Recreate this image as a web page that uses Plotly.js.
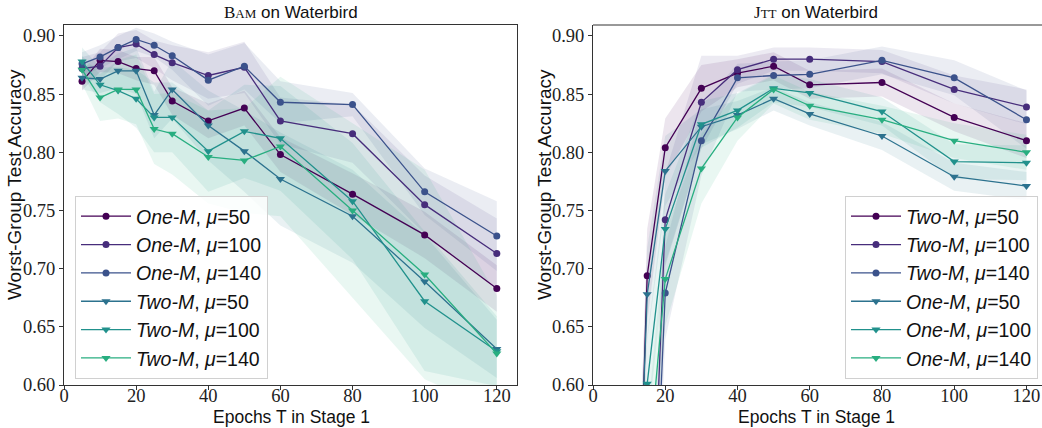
<!DOCTYPE html>
<html>
<head>
<meta charset="utf-8">
<script src="https://cdn.plot.ly/plotly-3.0.1.min.js"></script>
<style>html,body{margin:0;padding:0;background:#fff;}#chart{width:1042px;height:428px;}</style>
</head>
<body>
<div id="chart"></div>
<script>
// ---------- data ----------
const leftX = [5, 10, 15, 20, 25, 30, 40, 50, 60, 80, 100, 120];
const rightX = [10, 15, 20, 30, 40, 50, 60, 80, 100, 120];

// BAM on Waterbird (means)
const bamOne50  = [0.861, 0.879, 0.878, 0.872, 0.870, 0.844, 0.827, 0.838, 0.798, 0.764, 0.729, 0.683];
const bamOne100 = [0.872, 0.874, 0.890, 0.893, 0.884, 0.877, 0.866, 0.873, 0.827, 0.816, 0.755, 0.713];
const bamOne140 = [0.876, 0.882, 0.890, 0.897, 0.892, 0.883, 0.862, 0.874, 0.843, 0.841, 0.766, 0.728];
const bamTwo50  = [0.864, 0.863, 0.870, 0.870, 0.832, 0.854, 0.823, 0.801, 0.777, 0.745, 0.689, 0.631];
const bamTwo100 = [0.878, 0.858, 0.853, 0.846, 0.830, 0.830, 0.801, 0.818, 0.812, 0.758, 0.672, 0.629];
const bamTwo140 = [0.871, 0.847, 0.854, 0.854, 0.820, 0.816, 0.796, 0.793, 0.805, 0.750, 0.695, 0.627];
// BAM std
const bamOne50Sd  = [0.008, 0.010, 0.010, 0.010, 0.012, 0.012, 0.015, 0.015, 0.015, 0.018, 0.020, 0.020];
const bamOne100Sd = [0.010, 0.012, 0.012, 0.012, 0.012, 0.015, 0.020, 0.022, 0.020, 0.025, 0.025, 0.030];
const bamOne140Sd = [0.010, 0.010, 0.010, 0.010, 0.010, 0.012, 0.022, 0.020, 0.018, 0.010, 0.020, 0.030];
const bamTwo50Sd  = [0.010, 0.012, 0.015, 0.020, 0.020, 0.025, 0.030, 0.035, 0.040, 0.040, 0.040, 0.025];
const bamTwo100Sd = [0.012, 0.015, 0.020, 0.025, 0.030, 0.030, 0.035, 0.040, 0.045, 0.050, 0.060, 0.030];
const bamTwo140Sd = [0.012, 0.020, 0.025, 0.030, 0.030, 0.035, 0.040, 0.045, 0.060, 0.075, 0.090, 0.050];

// JTT on Waterbird (means)
const jttTwo50  = [0.20, 0.694, 0.804, 0.855, 0.868, 0.874, 0.858, 0.860, 0.830, 0.810];
const jttTwo100 = [0.15, 0.350, 0.742, 0.843, 0.871, 0.880, 0.880, 0.878, 0.854, 0.839];
const jttTwo140 = [0.12, 0.320, 0.679, 0.810, 0.864, 0.866, 0.867, 0.879, 0.864, 0.828];
const jttOne50  = [0.25, 0.678, 0.784, 0.822, 0.832, 0.846, 0.833, 0.814, 0.779, 0.771];
const jttOne100 = [0.20, 0.601, 0.734, 0.824, 0.836, 0.855, 0.851, 0.835, 0.792, 0.791];
const jttOne140 = [0.15, 0.520, 0.691, 0.786, 0.830, 0.854, 0.840, 0.828, 0.810, 0.800];
// JTT std
const jttTwo50Sd  = [0.05, 0.040, 0.025, 0.020, 0.012, 0.012, 0.012, 0.012, 0.012, 0.015];
const jttTwo100Sd = [0.05, 0.050, 0.040, 0.040, 0.012, 0.010, 0.010, 0.010, 0.012, 0.015];
const jttTwo140Sd = [0.05, 0.050, 0.040, 0.030, 0.012, 0.012, 0.012, 0.012, 0.015, 0.025];
const jttOne50Sd  = [0.05, 0.040, 0.030, 0.015, 0.012, 0.010, 0.010, 0.012, 0.012, 0.012];
const jttOne100Sd = [0.05, 0.040, 0.030, 0.020, 0.015, 0.012, 0.012, 0.012, 0.015, 0.015];
const jttOne140Sd = [0.05, 0.050, 0.040, 0.030, 0.020, 0.012, 0.012, 0.012, 0.015, 0.015];

const leftNames  = ['<i>One-M</i>, <i>μ</i>=50', '<i>One-M</i>, <i>μ</i>=100', '<i>One-M</i>, <i>μ</i>=140',
                    '<i>Two-M</i>, <i>μ</i>=50', '<i>Two-M</i>, <i>μ</i>=100', '<i>Two-M</i>, <i>μ</i>=140'];
const rightNames = ['<i>Two-M</i>, <i>μ</i>=50', '<i>Two-M</i>, <i>μ</i>=100', '<i>Two-M</i>, <i>μ</i>=140',
                    '<i>One-M</i>, <i>μ</i>=50', '<i>One-M</i>, <i>μ</i>=100', '<i>One-M</i>, <i>μ</i>=140'];
const xTicks = [0, 20, 40, 60, 80, 100, 120];
const yTicks = [0.60, 0.65, 0.70, 0.75, 0.80, 0.85, 0.90];
const xTitle = 'Epochs T in Stage 1';
const yTitle = 'Worst-Group Test Accuracy';

// ---------- styling ----------
const colors = ['#440154', '#472d7b', '#3b528b', '#2c728e', '#21918c', '#28ae80'];
const symbols = ['circle', 'circle', 'circle', 'triangle-down', 'triangle-down', 'triangle-down'];
function rgba(hex, a) {
  const r = parseInt(hex.slice(1, 3), 16), g = parseInt(hex.slice(3, 5), 16), b = parseInt(hex.slice(5, 7), 16);
  return `rgba(${r},${g},${b},${a})`;
}

const traces = [];
function addSeries(xs, means, sds, names, xa, ya, legendName) {
  means.forEach((m, i) => {
    const up = m.map((v, j) => v + sds[i][j]);
    const lo = m.map((v, j) => v - sds[i][j]);
    traces.push({
      x: xs.concat(xs.slice().reverse()),
      y: up.concat(lo.slice().reverse()),
      xaxis: xa, yaxis: ya, type: 'scatter', mode: 'lines',
      fill: 'toself', fillcolor: rgba(colors[i], 0.10),
      line: {width: 0, color: 'rgba(0,0,0,0)'},
      hoverinfo: 'skip', showlegend: false
    });
  });
  means.forEach((m, i) => {
    traces.push({
      x: xs, y: m, xaxis: xa, yaxis: ya, type: 'scatter', mode: 'lines+markers',
      name: names[i], legend: legendName, legendgroup: legendName + i,
      line: {color: colors[i], width: 1.3},
      marker: {color: colors[i], symbol: symbols[i], size: symbols[i] === 'circle' ? 7 : 8, line: {width: 0}}
    });
  });
}
addSeries(leftX, [bamOne50, bamOne100, bamOne140, bamTwo50, bamTwo100, bamTwo140],
  [bamOne50Sd, bamOne100Sd, bamOne140Sd, bamTwo50Sd, bamTwo100Sd, bamTwo140Sd], leftNames, 'x', 'y', 'legend');
addSeries(rightX, [jttTwo50, jttTwo100, jttTwo140, jttOne50, jttOne100, jttOne140],
  [jttTwo50Sd, jttTwo100Sd, jttTwo140Sd, jttOne50Sd, jttOne100Sd, jttOne140Sd], rightNames, 'x2', 'y2', 'legend2');

const W = 1042, H = 428;
const tickFont = {family: 'Liberation Serif, DejaVu Serif, serif', size: 18.5, color: '#222'};
const xTitleFont = {family: 'Liberation Sans, DejaVu Sans, sans-serif', size: 17.5, color: '#111'};
const yTitleFont = {family: 'Liberation Sans, DejaVu Sans, sans-serif', size: 19, color: '#111'};
function xaxis(dom, rng, mirror) {
  return {
    domain: dom, range: rng, tickvals: xTicks, ticktext: xTicks.map(String),
    ticks: 'outside', ticklen: 4, tickwidth: 1, tickcolor: '#333', ticklabelstandoff: -10,
    showline: true, linecolor: '#333', linewidth: 1, mirror: mirror,
    showgrid: false, zeroline: false, tickfont: tickFont
  };
}
function yaxis(mirror, anchor) {
  return {
    domain: [1 - 385 / H, 1 - 25 / H], range: [0.60, 0.9094], anchor: anchor,
    tickvals: yTicks, ticktext: yTicks.map(v => v.toFixed(2)),
    ticks: 'outside', ticklen: 4, tickwidth: 1, tickcolor: '#333',
    showline: true, linecolor: '#333', linewidth: 1, mirror: mirror,
    showgrid: false, zeroline: false, tickfont: tickFont
  };
}
const legendCommon = {
  font: {family: 'Liberation Sans, DejaVu Sans, sans-serif', size: 19.5, color: '#111'},
  bgcolor: 'rgba(255,255,255,0.8)', bordercolor: '#d0d0d0', borderwidth: 1,
  itemwidth: 50, tracegroupgap: 0, xanchor: 'left', yanchor: 'top'
};
function titleAnn(text, x, y, angle, font) {
  return {xref: 'paper', yref: 'paper', x: x / W, y: 1 - y / H, xanchor: 'center', yanchor: 'middle',
          showarrow: false, text: text, textangle: angle, font: font};
}
const layout = {
  width: W, height: H, margin: {l: 0, r: 0, t: 0, b: 0},
  paper_bgcolor: '#fff', plot_bgcolor: '#fff', showlegend: true,
  xaxis: Object.assign(xaxis([64 / W, 517 / W], [0, 125.6], true), {anchor: 'y'}),
  yaxis: yaxis(true, 'x'),
  xaxis2: Object.assign(xaxis([593 / W, 1], [0, 124.3], false), {anchor: 'y2'}),
  yaxis2: yaxis(false, 'x2'),
  legend: Object.assign({}, legendCommon, {x: 75 / W, y: 1 - 196 / H}),
  legend2: Object.assign({}, legendCommon, {x: 845 / W, y: 1 - 196 / H}),
  shapes: [
    {type: 'line', xref: 'paper', yref: 'paper', x0: 593 / W, x1: 1, y0: 1 - 25 / H, y1: 1 - 25 / H, line: {color: '#333', width: 1}}
  ],
  annotations: [
    {xref: 'paper', yref: 'paper', x: 290.5 / W, y: 1 - 12 / H, xanchor: 'center', yanchor: 'middle', showarrow: false,
     text: '<span style="font-family:Liberation Serif">B<span style="font-size:13px">AM</span></span> on Waterbird',
     font: {family: 'Liberation Sans, DejaVu Sans, sans-serif', size: 17, color: '#111'}},
    {xref: 'paper', yref: 'paper', x: 816 / W, y: 1 - 12 / H, xanchor: 'center', yanchor: 'middle', showarrow: false,
     text: '<span style="font-family:Liberation Serif">J<span style="font-size:13px">TT</span></span> on Waterbird',
     font: {family: 'Liberation Sans, DejaVu Sans, sans-serif', size: 17, color: '#111'}},
    titleAnn(xTitle, 291, 417, 0, xTitleFont),
    titleAnn(xTitle, 816, 417, 0, xTitleFont),
    titleAnn(yTitle, 15, 185, -90, yTitleFont),
    titleAnn(yTitle, 545, 185, -90, yTitleFont)
  ]
};
Plotly.newPlot('chart', traces, layout, {displayModeBar: false, staticPlot: true});
</script>
</body>
</html>
